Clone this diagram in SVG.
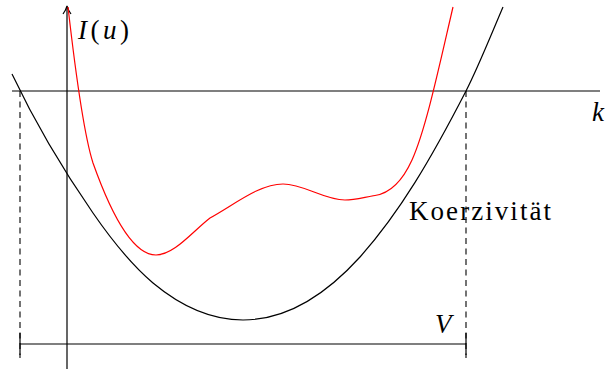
<svg xmlns="http://www.w3.org/2000/svg" width="607" height="369" viewBox="0 0 607 369">
<style>
.ln{fill:none;stroke:#000;stroke-width:1.2}
.dash{fill:none;stroke:#000;stroke-width:1.1;stroke-dasharray:6 4.5}
.red{fill:none;stroke:#ff0000;stroke-width:1.2}
text{font-family:"Liberation Serif","DejaVu Serif","Times New Roman",serif;font-size:27px;fill:#000}
.i{font-style:italic}
</style>
<rect width="607" height="369" fill="#fff"/>
<g id="axes">
<line class="ln" x1="67" y1="369" x2="67" y2="8"/>
<path d="M63,14 Q66,10 67,6 Q68,10 71,14" fill="none" stroke="#000" stroke-width="1.2"/>
<line class="ln" x1="12" y1="91" x2="600" y2="91"/>
</g>
<g id="guides">
<line class="dash" x1="20" y1="91" x2="20" y2="358"/>
<line class="dash" x1="466" y1="91" x2="466" y2="358"/>
<line class="ln" x1="20" y1="344" x2="466" y2="344"/>
<line class="ln" x1="20" y1="333" x2="20" y2="355"/>
<line class="ln" x1="466" y1="333" x2="466" y2="355"/>
</g>
<g id="black-curve">
<path class="ln" d="M12,74 C39,131 66,174 93,213 C113,242 133,266 153,283 C183,308 213,320 243,320 C282,320 321,300 360,257 C400,212 431,159 466,91 C478,67.6 491,35 503,7"/>
</g>
<g id="red-curve">
<path class="red" d="M68,7 C76,77 85,138 93,163 C114,222 135,255 156,255 C174,255 192,232 210,218 C234,205 259,184 283,184 C304,184 324,200 345,200 C355,200 365,197 375,195.5 C387,193.7 400,186.4 412,160 C426,129 439,67 453,7"/>
</g>
<g id="labels">
<text x="78" y="39" font-family="Liberation Serif, serif" textLength="51" lengthAdjust="spacing"><tspan class="i">I</tspan>(<tspan class="i">u</tspan>)</text>
<text class="i" x="592" y="121" font-family="Liberation Serif, serif">k</text>
<text x="409" y="220" font-family="Liberation Serif, serif" textLength="142" lengthAdjust="spacing">Koerzivität</text>
<text class="i" x="435" y="333" font-family="Liberation Serif, serif">V</text>
</g>
</svg>
